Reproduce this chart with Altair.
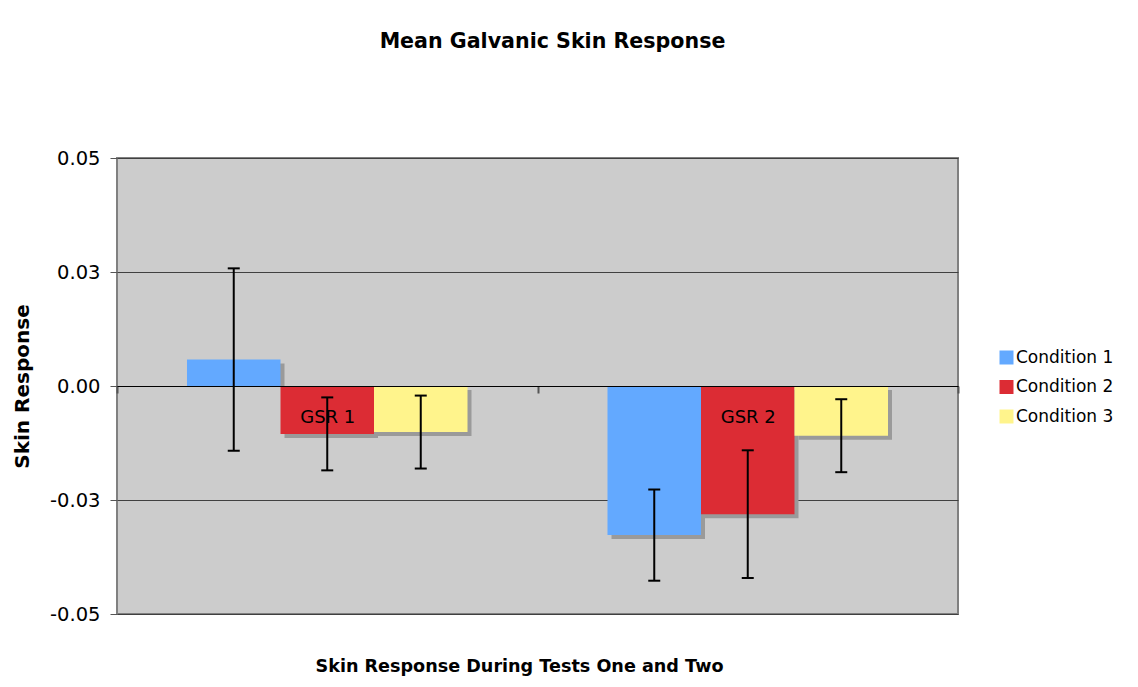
import altair as alt
import pandas as pd

groups = ["GSR 1", "GSR 2"]
conditions = ["Condition 1", "Condition 2", "Condition 3"]
colors = ["#63A9FF", "#DC2C34", "#FFF48C"]

# mean skin response per group, per condition
means_gsr1 = [0.0058, -0.0105, -0.0101]
means_gsr2 = [-0.0327, -0.0281, -0.0109]
# error half-widths
errs_gsr1 = [0.0200, 0.0080, 0.0080]
errs_gsr2 = [0.0100, 0.0140, 0.0080]

y_ticks = [-0.05, -0.025, 0.0, 0.025, 0.05]

rows = []
for g, ms, es in [("GSR 1", means_gsr1, errs_gsr1), ("GSR 2", means_gsr2, errs_gsr2)]:
    for c, m, e in zip(conditions, ms, es):
        rows.append({"group": g, "condition": c, "mean": m, "lo": m - e, "hi": m + e})
df = pd.DataFrame(rows)

FONT = "DejaVu Sans"
W, H = 841, 456
SHADOW = 4
PAD_OUT = 0.7486

x_enc = alt.X(
    "group:N",
    sort=groups,
    scale=alt.Scale(type="band", paddingInner=0, paddingOuter=0),
    axis=alt.Axis(
        orient="bottom",
        offset=-H / 2,
        zindex=1,
        domainColor="#000000",
        domainWidth=1,
        tickBand="extent",
        tickSize=7,
        tickColor="#555555",
        tickWidth=2,
        labelFontSize=18,
        labelFont=FONT,
        labelColor="#000000",
        labelPadding=15,
        labelAngle=0,
        title="Skin Response During Tests One and Two",
        titleFont=FONT,
        titleFontSize=17.6,
        titleFontWeight="bold",
        titleColor="#000000",
        titleX=402,
        titleY=285,
        titleAlign="center",
        titleBaseline="alphabetic",
    ),
)
xo_enc = alt.XOffset(
    "condition:N", sort=conditions,
    scale=alt.Scale(type="band", domain=conditions, paddingInner=0, paddingOuter=PAD_OUT),
)
xo_shadow = alt.XOffset(
    "condition:N", sort=conditions,
    scale=alt.Scale(type="band", domain=conditions, paddingInner=0, paddingOuter=PAD_OUT,
                    range=[SHADOW, W / 2 + SHADOW]),
)
y_scale = alt.Scale(domain=[-0.05, 0.05], nice=False, zero=False)

base = alt.Chart(df)

y_axis = alt.Axis(
    values=y_ticks,
    grid=True,
    gridColor="#404040",
    gridWidth=1,
    domain=False,
    tickSize=7,
    tickColor="#555555",
    labelFontSize=19.5,
    labelFont=FONT,
    labelColor="#000000",
    labelPadding=10,
    labelExpr="datum.value < 0 ? '-' + format(abs(datum.value), '.2f') : format(datum.value, '.2f')",
    title="Skin Response",
    titleFont=FONT,
    titleFontSize=20,
    titleFontWeight="bold",
    titleColor="#000000",
    titleX=-95,
    titleY=228,
    titleAngle=270,
    titleAlign="center",
    titleBaseline="middle",
)

shadow_pos = base.transform_filter("datum.mean >= 0").mark_bar(
    color="#9A9A9A", yOffset=SHADOW, y2Offset=0
).encode(
    x=x_enc, xOffset=xo_shadow,
    y=alt.Y("mean:Q", scale=y_scale, axis=y_axis),
    y2=alt.datum(0),
)
shadow_neg = base.transform_filter("datum.mean < 0").mark_bar(
    color="#9A9A9A", yOffset=SHADOW, y2Offset=SHADOW
).encode(
    x=x_enc, xOffset=xo_shadow,
    y=alt.Y("mean:Q", scale=y_scale),
    y2=alt.datum(0),
)

bars = base.mark_bar().encode(
    x=x_enc, xOffset=xo_enc,
    y=alt.Y("mean:Q", scale=y_scale),
    y2=alt.datum(0),
    color=alt.Color(
        "condition:N",
        sort=conditions,
        scale=alt.Scale(domain=conditions, range=colors),
        legend=alt.Legend(
            title=None,
            orient="none",
            legendX=881,
            legendY=191,
            symbolType="square",
            symbolSize=196,
            symbolStrokeWidth=0,
            symbolOpacity=1,
            labelFont=FONT,
            labelFontSize=17,
            labelColor="#000000",
            labelOffset=1,
            rowPadding=11.5,
            padding=0,
        ),
    ),
)

err = base.mark_rule(color="#000000", strokeWidth=2).encode(
    x=x_enc, xOffset=xo_enc,
    y=alt.Y("lo:Q", scale=y_scale),
    y2="hi:Q",
)
cap_path = "M-1,0L1,0"
cap_lo = base.mark_point(shape=cap_path, size=144, filled=False, stroke="#000000", strokeWidth=2, opacity=1).encode(
    x=x_enc, xOffset=xo_enc, y=alt.Y("lo:Q", scale=y_scale)
)
cap_hi = base.mark_point(shape=cap_path, size=144, filled=False, stroke="#000000", strokeWidth=2, opacity=1).encode(
    x=x_enc, xOffset=xo_enc, y=alt.Y("hi:Q", scale=y_scale)
)

chart = alt.layer(shadow_pos, shadow_neg, bars, err, cap_lo, cap_hi).resolve_scale(
    xOffset="independent"
).properties(
    width=W,
    height=H,
    autosize=alt.AutoSizeParams(type="none"),
    padding={"left": 109, "top": 150, "right": 170, "bottom": 65},
    title=alt.TitleParams(
        "Mean Galvanic Skin Response",
        font=FONT,
        fontSize=20.6,
        fontWeight="bold",
        color="#000000",
        anchor="middle",
        dx=15,
        offset=95,
    ),
    background="#FFFFFF",
).configure_view(
    fill="#CCCCCC", stroke="#808080", strokeWidth=2
)

chart.save("out.html", embed_options={"renderer": "svg", "actions": False})
